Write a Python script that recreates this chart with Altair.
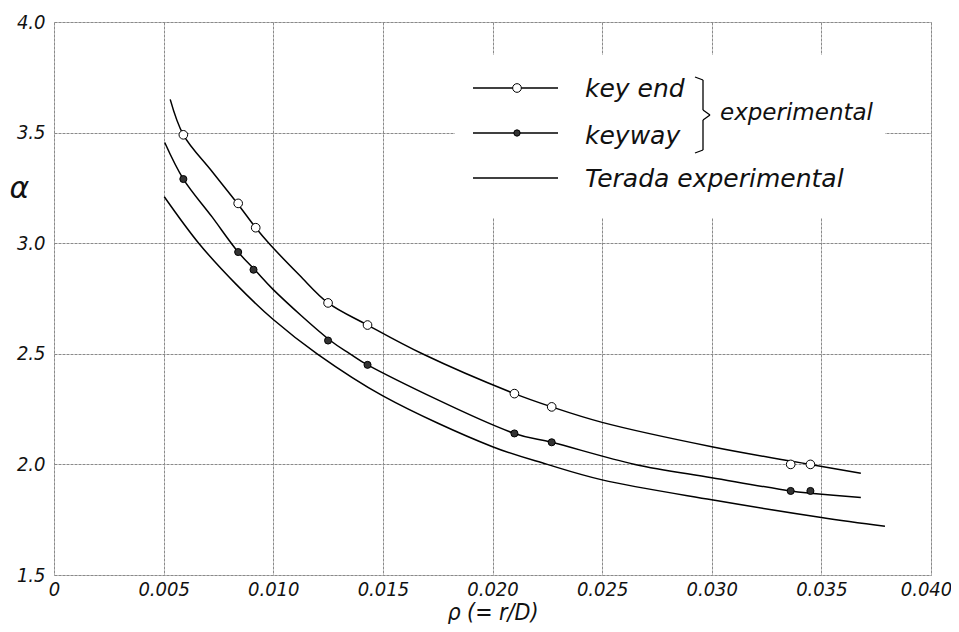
import altair as alt
import pandas as pd

# ---- data ----
key_end_x = [0.0059, 0.0084, 0.0092, 0.0125, 0.0143, 0.0210, 0.0227, 0.0336, 0.0345]
key_end_y = [3.49, 3.18, 3.07, 2.73, 2.63, 2.32, 2.26, 2.00, 2.00]
keyway_x = [0.0059, 0.0084, 0.0091, 0.0125, 0.0143, 0.0210, 0.0227, 0.0336, 0.0345]
keyway_y = [3.29, 2.96, 2.88, 2.56, 2.45, 2.14, 2.10, 1.88, 1.88]

key_end_curve_x = [0.0053, 0.0059, 0.0072, 0.0084, 0.0092, 0.0098, 0.0112, 0.0125, 0.0143, 0.0168, 0.0210, 0.0227, 0.0250, 0.0300, 0.0336, 0.0345, 0.0368]
key_end_curve_y = [3.65, 3.49, 3.325, 3.175, 3.07, 3.00, 2.855, 2.73, 2.63, 2.50, 2.32, 2.26, 2.19, 2.08, 2.015, 2.00, 1.96]
keyway_curve_x = [0.00505, 0.0059, 0.0072, 0.0084, 0.0092, 0.0100, 0.0126, 0.0135, 0.0143, 0.0210, 0.0227, 0.0265, 0.0300, 0.0336, 0.0345, 0.0368]
keyway_curve_y = [3.455, 3.29, 3.12, 2.96, 2.875, 2.79, 2.56, 2.50, 2.45, 2.14, 2.10, 2.00, 1.94, 1.88, 1.87, 1.85]
terada_curve_x = [0.00503, 0.0066, 0.0083, 0.0100, 0.0120, 0.0150, 0.0200, 0.0225, 0.0250, 0.0300, 0.0350, 0.0379]
terada_curve_y = [3.21, 3.00, 2.815, 2.655, 2.50, 2.31, 2.08, 2.00, 1.93, 1.84, 1.76, 1.72]

x_ticks = [0, 0.005, 0.010, 0.015, 0.020, 0.025, 0.030, 0.035, 0.040]
y_ticks = [1.5, 2.0, 2.5, 3.0, 3.5, 4.0]

legend_labels = ["key end", "keyway", "Terada experimental"]
brace_label = "experimental"

TICK_FONT = "Liberation Sans Narrow, DejaVu Sans Condensed, DejaVu Sans"
TEXT_FONT = "DejaVu Sans"

curves = pd.concat([
    pd.DataFrame({"x": key_end_curve_x, "y": key_end_curve_y, "s": "key end"}),
    pd.DataFrame({"x": keyway_curve_x, "y": keyway_curve_y, "s": "keyway"}),
    pd.DataFrame({"x": terada_curve_x, "y": terada_curve_y, "s": "terada"}),
])
pts_open = pd.DataFrame({"x": key_end_x, "y": key_end_y})
pts_fill = pd.DataFrame({"x": keyway_x, "y": keyway_y})

xscale = alt.Scale(domain=[0, 0.04], nice=False, zero=False)
yscale = alt.Scale(domain=[1.5, 4.0], nice=False, zero=False)

xaxis = alt.Axis(
    values=x_ticks, grid=True, ticks=False, domain=False,
    labelExpr="datum.value == 0 ? '0' : format(datum.value, '.3f')",
    labelFont=TICK_FONT, labelFontSize=20, labelFontStyle="italic", labelColor="#111",
    labelPadding=4, labelFlush=False, labelOverlap=False,
    labelOffset=alt.condition("datum.value >= 0.04", alt.value(-5), alt.value(0)),
    gridColor="#8a8a8a", gridDash=[3, 1], gridWidth=1,
    title="ρ (= r/D)", titleFont=TICK_FONT, titleFontSize=23, titleFontStyle="italic",
    titleFontWeight="normal", titleColor="#111", titleBaseline="alphabetic", titleY=44,
)
yaxis = alt.Axis(
    values=y_ticks, grid=True, ticks=False, domain=False, format=".1f",
    labelFont=TICK_FONT, labelFontSize=20, labelFontStyle="italic", labelColor="#111",
    labelPadding=9, labelFlush=False, labelOverlap=False,
    gridColor="#8a8a8a", gridDash=[3, 1], gridWidth=1,
    title="α", titleAngle=0, titleX=-35, titleY=166, titleAlign="center",
    titleBaseline="middle", titleFont=TEXT_FONT, titleFontSize=30, titleFontStyle="italic",
    titleFontWeight="normal", titleColor="#111",
)

lines = alt.Chart(curves).mark_line(color="black", strokeWidth=1.5, interpolate="catmull-rom").encode(
    x=alt.X("x:Q", scale=xscale, axis=xaxis),
    y=alt.Y("y:Q", scale=yscale, axis=yaxis),
    detail="s:N",
)
open_pts = alt.Chart(pts_open).mark_point(shape="circle", filled=True, fill="white", stroke="black",
                                          strokeWidth=1, size=75, opacity=1).encode(
    x=alt.X("x:Q", scale=xscale), y=alt.Y("y:Q", scale=yscale))
fill_pts = alt.Chart(pts_fill).mark_point(shape="circle", filled=True, fill="#333", stroke="black",
                                          strokeWidth=1, size=50, opacity=1).encode(
    x=alt.X("x:Q", scale=xscale), y=alt.Y("y:Q", scale=yscale))

one = alt.Data(values=[{"a": 1}])

# legend (pixel positions within plot area)
box = alt.Chart(one).mark_rect(fill="white").encode(
    x=alt.value(401), x2=alt.value(831), y=alt.value(33), y2=alt.value(196))
leg_lines = []
for yy in [66, 111, 156]:
    leg_lines.append(alt.Chart(one).mark_rule(color="black", strokeWidth=1.5).encode(
        x=alt.value(419), x2=alt.value(504), y=alt.value(yy), y2=alt.value(yy)))
leg_open = alt.Chart(one).mark_point(shape="circle", filled=True, fill="white", stroke="black",
                                     strokeWidth=1, size=75, opacity=1).encode(
    x=alt.value(463), y=alt.value(66))
leg_fill = alt.Chart(one).mark_point(shape="circle", filled=True, fill="#333", stroke="black",
                                     strokeWidth=1, size=40, opacity=1).encode(
    x=alt.value(463), y=alt.value(111))
leg_texts = []
for lab, yy in zip(legend_labels, [75, 122, 165]):
    leg_texts.append(alt.Chart(one).mark_text(
        text=lab, align="left", baseline="alphabetic", font=TEXT_FONT, fontSize=25,
        fontStyle="italic", color="#111").encode(x=alt.value(531), y=alt.value(yy)))
# brace
brace_segs = [
    (641, 55, 649, 58), (649, 58, 649, 88), (649, 88, 656, 93),
    (656, 93, 649, 98), (649, 98, 649, 128), (649, 128, 641, 131),
]
braces = [alt.Chart(one).mark_rule(color="black", strokeWidth=1.3).encode(
    x=alt.value(a), y=alt.value(b), x2=alt.value(c), y2=alt.value(d)) for a, b, c, d in brace_segs]
exp_text = alt.Chart(one).mark_text(
    text=brace_label, align="left", baseline="alphabetic", font=TEXT_FONT, fontSize=23,
    fontStyle="italic", color="#111").encode(x=alt.value(666), y=alt.value(98))

chart = alt.layer(
    lines, open_pts, fill_pts, box, *leg_lines, leg_open, leg_fill, *leg_texts, *braces, exp_text
).properties(
    width=877, height=553,
    autosize=alt.AutoSizeParams(type="none"),
    padding={"left": 46, "top": 14, "right": 20, "bottom": 49},
).configure_view(stroke="#666", strokeWidth=1.2).configure(background="white")

chart.save("out.html", embed_options={"renderer": "svg", "actions": False})
